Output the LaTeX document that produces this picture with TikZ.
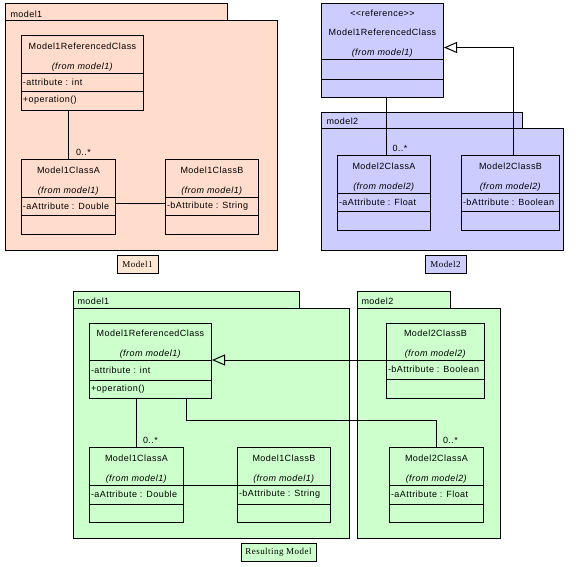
\documentclass[tikz,border=0pt]{standalone}
\usepackage{fontspec}
\usetikzlibrary{arrows.meta}
\newfontfamily\umlfont[LetterSpace=5]{Liberation Sans}
\newfontfamily\capfont[LetterSpace=5]{Liberation Serif}
\definecolor{peachfill}{HTML}{FFDCCB}
\definecolor{peachlabel}{HTML}{FFE6D2}
\definecolor{bluefill}{HTML}{CCCCFF}
\definecolor{greenfill}{HTML}{CCFFCC}

% class box: name, corner, width, height, separators, title, attribute, operation
\newcommand{\umlclass}[9]{%
  \node[classbox, minimum width=#3pt, minimum height=#4pt] (#1) at (#2) {};
  \draw ([yshift=-#5pt]#1.north west) -- ([yshift=-#5pt]#1.north east);
  \draw ([yshift=-#6pt]#1.north west) -- ([yshift=-#6pt]#1.north east);
  \node[classtitle] at ([yshift=-#5pt]#1.north) {#7};
  \node[classrow] at ([yshift={-(#5+#6)/2*1pt}]#1.north west) {#8};
  \node[classrow] at ([yshift={-(#6+#4)/2*1pt}]#1.north west) {#9};
}

\begin{document}
\begin{tikzpicture}[x=1pt, y=-1pt, line width=1pt,
  classbox/.style={draw, anchor=north west, inner sep=0pt},
  classtitle/.style={anchor=south, align=center, inner sep=1.5pt, font=\umlfont\fontsize{9}{19.5}\selectfont},
  classrow/.style={anchor=west, inner xsep=1.5pt, inner ysep=0pt, font=\umlfont\fontsize{9}{11}\selectfont},
  pkglabel/.style={anchor=west, inner sep=0pt, font=\umlfont\fontsize{9}{11}\selectfont},
  mult/.style={anchor=south west, inner sep=1pt, font=\umlfont\fontsize{9}{11}\selectfont},
  caption/.style={draw, inner sep=0pt, minimum height=18pt, font=\capfont\fontsize{9}{11}\selectfont},
  gen/.style={-{Triangle[open, length=13pt, width=11pt]}}]
  \useasboundingbox (0,0) rectangle (579,566);

  % source model1
  \filldraw[fill=peachfill] (5,3) rectangle (227,20);
  \filldraw[fill=peachfill] (5,20) rectangle (277,250);
  \node[pkglabel] (pkgA) at (10,14) {model1};
  \umlclass{ref1}{21,35}{122}{75}{38}{56}{Model1ReferencedClass\\\textit{(from model1)}}{-attribute : int}{+operation()}
  \umlclass{a1}{21,159}{94}{75}{38}{56}{Model1ClassA\\\textit{(from model1)}}{-aAttribute : Double}{}
  \umlclass{b1}{165,159}{93}{75}{38}{56}{Model1ClassB\\\textit{(from model1)}}{-bAttribute : String}{}
  \draw (a1.north |- ref1.south) -- (a1.north) node[mult, xshift=6pt, yshift=1.5pt] {0..*};
  \draw ([yshift=-44pt]a1.north east) -- ([yshift=-44pt]b1.north west);
  \node[caption, fill=peachlabel, minimum width=41pt] (capA) at (137.5,264) {Model1};

  % source model2
  \filldraw[fill=bluefill] (321,112) rectangle (522,128);
  \filldraw[fill=bluefill] (321,128) rectangle (563,250);
  \node[pkglabel] (pkgB) at (326,121) {model2};
  \begin{scope}[classbox/.append style={fill=bluefill}]
    \umlclass{ref2}{321,3}{122}{94}{56}{76}{<{}<reference>{}>\\Model1ReferencedClass\\\textit{(from model1)}}{}{}
  \end{scope}
  \umlclass{a2}{337,155}{93}{75}{38}{56}{Model2ClassA\\\textit{(from model2)}}{-aAttribute : Float}{}
  \umlclass{b2}{461,155}{98}{75}{38}{56}{Model2ClassB\\\textit{(from model2)}}{-bAttribute : Boolean}{}
  \draw ([xshift=2pt]a2.north |- ref2.south) -- ([xshift=2pt]a2.north) node[mult, xshift=5pt, yshift=1.5pt] {0..*};
  \draw[gen] ([xshift=3pt]b2.north) |- ([yshift=3pt]ref2.east);
  \node[caption, fill=bluefill, minimum width=41pt] (capB) at (445.5,264.5) {Model2};

  % resulting model
  \filldraw[fill=greenfill] (73,291) rectangle (299,308);
  \filldraw[fill=greenfill] (73,308) rectangle (349,538);
  \node[pkglabel] (pkgC) at (77,301) {model1};
  \filldraw[fill=greenfill] (357,291) rectangle (450,308);
  \filldraw[fill=greenfill] (357,308) rectangle (500,538);
  \node[pkglabel] (pkgD) at (361,301) {model2};
  \umlclass{ref3}{89,323}{122}{75}{37}{57}{Model1ReferencedClass\\\textit{(from model1)}}{-attribute : int}{+operation()}
  \umlclass{a3}{89,447}{94}{75}{38}{57}{Model1ClassA\\\textit{(from model1)}}{-aAttribute : Double}{}
  \umlclass{b3}{237,447}{93}{75}{38}{57}{Model1ClassB\\\textit{(from model1)}}{-bAttribute : String}{}
  \umlclass{b4}{386,323}{98}{75}{37}{56}{Model2ClassB\\\textit{(from model2)}}{-bAttribute : Boolean}{}
  \umlclass{a4}{389,447}{94}{75}{38}{57}{Model2ClassA\\\textit{(from model2)}}{-aAttribute : Float}{}
  \draw (a3.north |- ref3.south) -- (a3.north) node[mult, xshift=5pt, yshift=1.5pt] {0..*};
  \draw ([yshift=-38pt]a3.north east) -- ([yshift=-38pt]b3.north west);
  \coordinate (g4) at ([yshift=-37pt]b4.north west);
  \draw[gen] (g4) -- (g4 -| ref3.east);
  \coordinate (r3) at ([xshift=-26pt]ref3.south east);
  \draw (r3) -- ++(0,21) -| (a4.north) node[mult, xshift=5pt, yshift=1.5pt] {0..*};
  \node[caption, fill=greenfill, minimum width=75pt] (capC) at (278.5,552) {Resulting Model};
\end{tikzpicture}
\end{document}
